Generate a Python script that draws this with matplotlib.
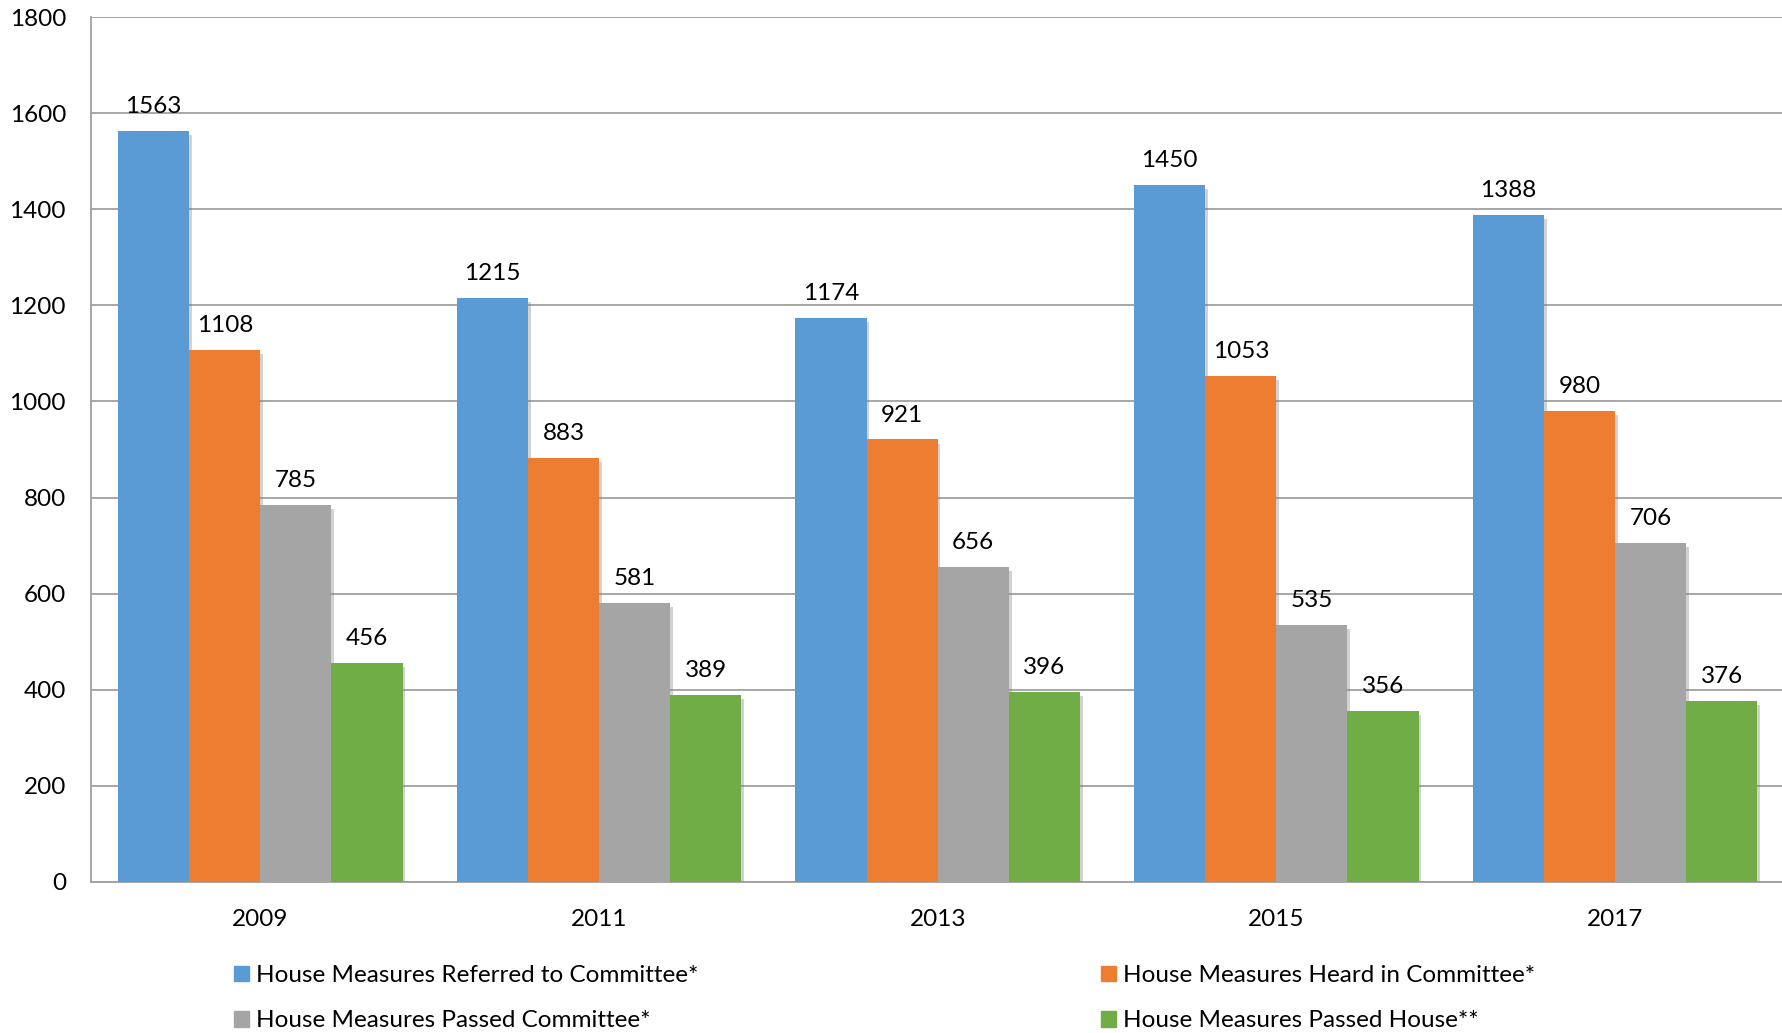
import numpy as np
import matplotlib
matplotlib.use("Agg")
import matplotlib.pyplot as plt
import matplotlib.patheffects as pe
from matplotlib.patches import Patch

# Chart data
years = ["2009", "2011", "2013", "2015", "2017"]
referred = [1563, 1215, 1174, 1450, 1388]
heard = [1108, 883, 921, 1053, 980]
passed_committee = [785, 581, 656, 535, 706]
passed_house = [456, 389, 396, 356, 376]

series_names = [
    "House Measures Referred to Committee*",
    "House Measures Heard in Committee*",
    "House Measures Passed Committee*",
    "House Measures Passed House**",
]
colors = ["#5B9BD5", "#ED7D31", "#A5A5A5", "#70AD47"]

plt.rcParams["font.family"] = ["Lato", "DejaVu Sans"]

fig = plt.figure(figsize=(17.82, 10.33), dpi=100)
ax = fig.add_axes([91 / 1782, 151 / 1033, 1 - 91 / 1782, 865 / 1033])

x = np.arange(len(years))
bar_w = 0.21
all_series = [referred, heard, passed_committee, passed_house]

shadow = [pe.SimplePatchShadow(offset=(2, -3), shadow_rgbFace="#808080", alpha=0.35), pe.Normal()]

for i, (vals, col) in enumerate(zip(all_series, colors)):
    pos = x + (i - 1.5) * bar_w
    bars = ax.bar(pos, vals, width=bar_w, color=col, zorder=3)
    for b in bars:
        b.set_path_effects(shadow)
    for px, v in zip(pos, vals):
        ax.annotate(str(v), (px, v), xytext=(0, 10), textcoords="offset points",
                    ha="center", va="bottom", fontsize=17.5, color="black")

ax.set_xlim(-0.5, 4.493)
ax.set_ylim(0, 1800)
ax.set_yticks(range(0, 1801, 200))
ax.set_xticks(x)
ax.set_xticklabels(years)
ax.tick_params(axis="both", length=0, labelsize=17.5)
ax.tick_params(axis="y", pad=18)
ax.tick_params(axis="x", pad=19.5)

ax.grid(axis="y", color="#A0A0A0", linewidth=1.3, zorder=0)
ax.set_axisbelow(True)
for s in ["top", "right"]:
    ax.spines[s].set_visible(False)
ax.spines["left"].set_color("#A0A0A0")
ax.spines["bottom"].set_color("#A0A0A0")
ax.spines["left"].set_linewidth(1.3)
ax.spines["bottom"].set_linewidth(1.3)

# legend: column-wise order so rows read Referred/Heard, Passed Committee/Passed House
order = [0, 2, 1, 3]
handles = [Patch(color=colors[k]) for k in order]
labels = [series_names[k] for k in order]
fig.legend(handles, labels, ncol=2, loc="upper left", bbox_to_anchor=(222 / 1782, 1 - 953 / 1033),
           frameon=False, fontsize=17.5, handlelength=0.6, handleheight=0.6,
           handletextpad=0.28, columnspacing=16.6, labelspacing=1.0, borderpad=0)

fig.savefig("out.png", dpi=100)
